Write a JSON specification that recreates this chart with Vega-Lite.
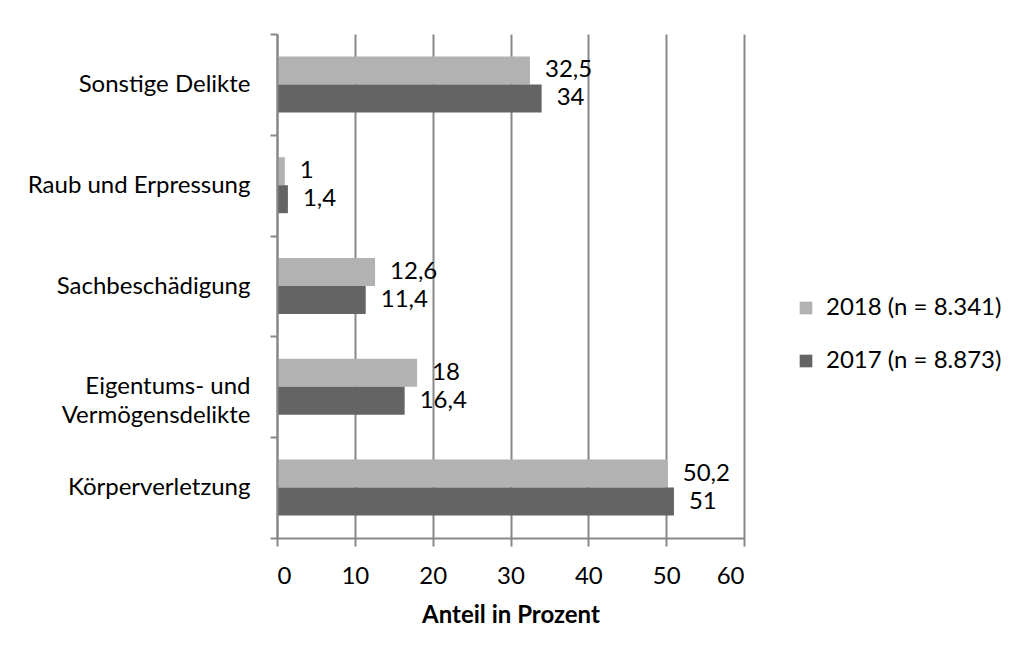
{
  "$schema": "https://vega.github.io/schema/vega-lite/v6.json",
  "width": 467,
  "height": 504,
  "autosize": {"type": "none"},
  "padding": {"left": 277, "top": 34, "right": 278, "bottom": 119},
  "background": "white",
  "data": {
    "values": [
      {"Delikt": "Sonstige Delikte", "Jahr": "2018 (n = 8.341)", "Anteil": 32.5},
      {"Delikt": "Sonstige Delikte", "Jahr": "2017 (n = 8.873)", "Anteil": 34},
      {"Delikt": "Raub und Erpressung", "Jahr": "2018 (n = 8.341)", "Anteil": 1},
      {"Delikt": "Raub und Erpressung", "Jahr": "2017 (n = 8.873)", "Anteil": 1.4},
      {"Delikt": "Sachbeschädigung", "Jahr": "2018 (n = 8.341)", "Anteil": 12.6},
      {"Delikt": "Sachbeschädigung", "Jahr": "2017 (n = 8.873)", "Anteil": 11.4},
      {"Delikt": "Eigentums- und Vermögensdelikte", "Jahr": "2018 (n = 8.341)", "Anteil": 18},
      {"Delikt": "Eigentums- und Vermögensdelikte", "Jahr": "2017 (n = 8.873)", "Anteil": 16.4},
      {"Delikt": "Körperverletzung", "Jahr": "2018 (n = 8.341)", "Anteil": 50.2},
      {"Delikt": "Körperverletzung", "Jahr": "2017 (n = 8.873)", "Anteil": 51}
    ]
  },
  "encoding": {
    "y": {
      "field": "Delikt",
      "type": "nominal",
      "sort": ["Sonstige Delikte", "Raub und Erpressung", "Sachbeschädigung", "Eigentums- und Vermögensdelikte", "Körperverletzung"],
      "scale": {"paddingInner": 0, "paddingOuter": 0},
      "axis": {
        "title": null,
        "tickBand": "extent",
        "tickSize": 7,
        "tickWidth": 2,
        "tickColor": "#888888",
        "domainColor": "#888888",
        "domainWidth": 2,
        "labelPadding": 20,
        "labelFontSize": 24,
        "labelColor": "#000000",
        "labelLimit": 0,
        "labelLineHeight": 29,
        "zindex": 1,
        "labelExpr": "datum.label == 'Eigentums- und Vermögensdelikte' ? ['Eigentums- und ', 'Vermögensdelikte'] : datum.label"
      }
    },
    "yOffset": {
      "field": "Jahr",
      "type": "nominal",
      "sort": ["2018 (n = 8.341)", "2017 (n = 8.873)"],
      "scale": {"paddingInner": 0, "paddingOuter": 0.8}
    },
    "x": {
      "field": "Anteil",
      "type": "quantitative",
      "scale": {"domain": [0, 60], "nice": false},
      "axis": {
        "title": "Anteil in Prozent",
        "values": [0, 10, 20, 30, 40, 50, 60],
        "grid": true,
        "gridColor": "#888888",
        "gridWidth": 2,
        "tickSize": 8,
        "tickWidth": 2,
        "tickColor": "#888888",
        "domainColor": "#888888",
        "domainWidth": 2,
        "labelPadding": 18,
        "labelFontSize": 24,
        "labelColor": "#000000",
        "titleFontSize": 24,
        "titleFontWeight": "bold",
        "titleColor": "#000000",
        "titlePadding": 15,
        "zindex": 0
      }
    }
  },
  "layer": [
    {
      "mark": {"type": "bar"},
      "encoding": {
        "color": {
          "field": "Jahr",
          "type": "nominal",
          "sort": ["2018 (n = 8.341)", "2017 (n = 8.873)"],
          "scale": {"domain": ["2018 (n = 8.341)", "2017 (n = 8.873)"], "range": ["#b2b2b2", "#646464"]},
          "legend": {
            "title": null,
            "orient": "none",
            "legendX": 517,
            "legendY": 262,
            "padding": 0,
            "symbolType": "square",
            "symbolSize": 160,
            "symbolStrokeWidth": 0,
            "labelFontSize": 24,
            "labelLimit": 0,
            "labelColor": "#000000",
            "labelOffset": 8,
            "rowPadding": 29
          }
        }
      }
    },
    {
      "mark": {"type": "text", "align": "left", "baseline": "middle", "dx": 15, "fontSize": 24, "color": "#000000"},
      "encoding": {
        "text": {"field": "Anteil", "type": "quantitative", "format": ".1~f"}
      }
    }
  ],
  "config": {
    "font": "Lato",
    "view": {"stroke": null},
    "locale": {"number": {"decimal": ",", "thousands": ".", "grouping": [3], "currency": ["", " €"]}}
  }
}
